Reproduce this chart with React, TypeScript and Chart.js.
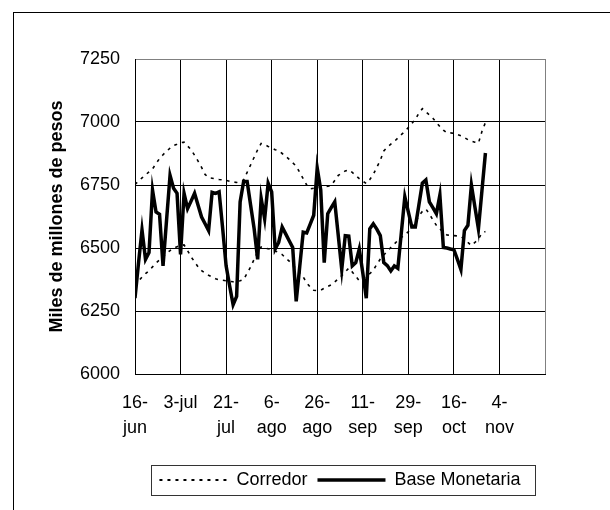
import React, { useEffect, useRef } from 'react';
import { Chart, registerables } from 'chart.js';

Chart.register(...registerables);

// X tick labels (one every 13 business days)
const tickLabels: string[][] = [
  ['16-', 'jun'], ['3-jul'], ['21-', 'jul'], ['6-', 'ago'], ['26-', 'ago'],
  ['11-', 'sep'], ['29-', 'sep'], ['16-', 'oct'], ['4-', 'nov'],
];
const TICK_EVERY = 13;
const AXIS_MAX = 117;

const Y_MIN = 6000;
const Y_MAX = 7250;
const Y_STEP = 250;

const baseMonetaria: number[] = [
  6301, 6440, 6572, 6455, 6482, 6730, 6643, 6634, 6429, 6610,
  6788, 6737, 6717, 6475, 6717, 6656, 6686, 6717, 6670, 6623,
  6596, 6569, 6721, 6717, 6723, 6580, 6429, 6350, 6275, 6308,
  6683, 6764, 6764, 6670, 6576, 6455, 6697, 6616, 6757, 6723,
  6496, 6522, 6583, 6556, 6529, 6502, 6288, 6425, 6563, 6560,
  6595, 6630, 6817, 6730, 6442, 6636, 6660, 6683, 6550, 6415,
  6549, 6547, 6429, 6442, 6496, 6402, 6301, 6576, 6596, 6575,
  6549, 6442, 6430, 6409, 6429, 6419, 6560, 6703, 6643, 6583,
  6583, 6670, 6757, 6770, 6683, 6660, 6636, 6710, 6502, 6500,
  6496, 6493, 6455, 6415, 6569, 6590, 6750, 6663, 6576, 6727,
  6877,
];

const corredorSup: number[] = [
  6752, 6765, 6778, 6790, 6802, 6814, 6835, 6855, 6870, 6884,
  6896, 6907, 6912, 6918, 6920, 6905, 6890, 6868, 6845, 6820,
  6792, 6779, 6777, 6775, 6772, 6770, 6768, 6765, 6762, 6760,
  6764, 6770, 6800, 6830, 6860, 6890, 6915, 6910, 6903, 6897,
  6890, 6886, 6875, 6864, 6852, 6838, 6825, 6800, 6775, 6750,
  6735, 6737, 6739, 6741, 6743, 6745, 6748, 6768, 6788, 6797,
  6806, 6810, 6800, 6788, 6775, 6765, 6756, 6772, 6792, 6820,
  6848, 6885, 6900, 6912, 6923, 6936, 6950, 6962, 6978, 6994,
  7010, 7035, 7053, 7040, 7028, 7015, 6998, 6982, 6968, 6957,
  6957, 6955, 6950, 6945, 6938, 6930, 6924, 6920, 6916, 6962,
  6998,
];

const corredorInf: number[] = [
  6350, 6368, 6385, 6398, 6410, 6425, 6440, 6453, 6465, 6478,
  6490, 6500, 6505, 6510, 6512, 6490, 6465, 6445, 6425, 6410,
  6400, 6392, 6385, 6378, 6374, 6372, 6370, 6368, 6366, 6368,
  6370, 6375, 6400, 6425, 6455, 6485, 6504, 6500, 6497, 6494,
  6488, 6482, 6474, 6460, 6448, 6432, 6418, 6402, 6385, 6362,
  6345, 6332, 6331, 6333, 6340, 6347, 6354, 6365, 6378, 6390,
  6405, 6420, 6405, 6388, 6370, 6378, 6390, 6398, 6412, 6435,
  6456, 6472, 6488, 6502, 6516, 6530, 6542, 6552, 6565, 6580,
  6600, 6628, 6645, 6655, 6635, 6612, 6590, 6575, 6563, 6552,
  6550, 6549, 6548, 6545, 6535, 6522, 6510, 6522, 6535, 6560,
  6565,
];

const seriesNames = ['Corredor', 'Base Monetaria'];
const yTitle = 'Miles de millones de pesos';

const toXY = (arr: number[]) => arr.map((y, i) => ({ x: i, y }));

const framePlugin = {
  id: 'outerFrame',
  beforeDraw(chart: any) {
    const ctx = chart.ctx;
    ctx.save();
    ctx.fillStyle = '#fff';
    ctx.fillRect(0, 0, chart.width, chart.height);
    ctx.strokeStyle = '#000';
    ctx.lineWidth = 1;
    ctx.strokeRect(13.5, 12.5, 900, 900);
    ctx.restore();
  },
};

const legendBoxPlugin = {
  id: 'legendBox',
  afterDraw(chart: any) {
    const lg = chart.legend;
    const hb = lg && lg.legendHitBoxes;
    if (!hb || !hb.length) return;
    const first = hb[0];
    const last = hb[hb.length - 1];
    const left = Math.round(first.left - 8);
    const right = Math.round(last.left + last.width + 14);
    const cy = first.top + first.height / 2;
    const top = Math.round(cy - 15);
    const ctx = chart.ctx;
    ctx.save();
    ctx.strokeStyle = '#333';
    ctx.lineWidth = 1;
    ctx.setLineDash([]);
    ctx.strokeRect(left + 0.5, top + 0.5, right - left, 30);
    ctx.restore();
  },
};

export default function App() {
  const ref = useRef<HTMLCanvasElement | null>(null);

  useEffect(() => {
    if (!ref.current) return;
    Chart.defaults.font.family = "'Liberation Sans', Arial, sans-serif";
    Chart.defaults.color = '#000';
    const chart = new Chart(ref.current, {
      type: 'line',
      data: {
        datasets: [
          {
            label: seriesNames[0],
            data: toXY(corredorSup),
            borderColor: '#000',
            backgroundColor: '#000',
            borderWidth: 1.6,
            borderDash: [3, 5],
            pointRadius: 0,
            tension: 0,
            fill: false,
            order: 1,
          },
          {
            label: seriesNames[1],
            data: toXY(baseMonetaria),
            borderColor: '#000',
            backgroundColor: '#000',
            borderWidth: 3.5,
            pointRadius: 0,
            tension: 0,
            fill: false,
            order: 0,
          },
          {
            label: seriesNames[0] + ' inf',
            data: toXY(corredorInf),
            borderColor: '#000',
            backgroundColor: '#000',
            borderWidth: 1.6,
            borderDash: [3, 5],
            pointRadius: 0,
            tension: 0,
            fill: false,
            order: 1,
          },
        ],
      },
      options: {
        responsive: false,
        animation: false,
        events: [],
        layout: { padding: { left: 40, right: 65, top: 59, bottom: 11 } },
        plugins: {
          tooltip: { enabled: false },
          legend: {
            position: 'bottom',
            fullSize: false,
            labels: {
              filter: (item: any) => item.datasetIndex !== 2,
              usePointStyle: true,
              pointStyle: 'line',
              pointStyleWidth: 68,
              boxHeight: 18,
              padding: 10,
              color: '#000',
              font: { size: 18 },
              generateLabels: (chart: any) =>
                chart.data.datasets.map((ds: any, i: number) => ({
                  text: ds.label,
                  datasetIndex: i,
                  strokeStyle: '#000',
                  fillStyle: '#000',
                  lineWidth: i === 1 ? 3.5 : 2,
                  lineDash: i === 1 ? [] : [3, 5],
                  pointStyle: 'line',
                  hidden: false,
                })),
            },
          },
        },
        scales: {
          x: {
            type: 'linear',
            min: 0,
            max: AXIS_MAX,
            afterFit: (scale: any) => {
              scale.height = 87;
            },
            ticks: {
              stepSize: TICK_EVERY,
              autoSkip: false,
              maxRotation: 0,
              minRotation: 0,
              padding: 16,
              color: '#000',
              font: { size: 18, lineHeight: 1.4 },
              callback: (value: any) => {
                const v = Number(value);
                const k = Math.round(v / TICK_EVERY);
                if (Math.abs(v - k * TICK_EVERY) > 1e-6) return '';
                return k < tickLabels.length ? tickLabels[k] : '';
              },
            },
            grid: {
              drawTicks: false,
              lineWidth: 1,
              color: (ctx: any) =>
                ctx.tick && Math.round(ctx.tick.value) === AXIS_MAX ? '#808080' : '#000',
            },
            border: { display: true, color: '#000', width: 1 },
          },
          y: {
            type: 'linear',
            min: Y_MIN,
            max: Y_MAX,
            afterFit: (scale: any) => {
              scale.width = 95;
            },
            ticks: {
              stepSize: Y_STEP,
              padding: 15,
              color: '#000',
              font: { size: 18 },
              callback: (value: any) => String(value),
            },
            grid: {
              drawTicks: false,
              lineWidth: 1,
              color: (ctx: any) =>
                ctx.tick && ctx.tick.value === Y_MAX ? '#808080' : '#000',
            },
            border: { display: true, color: '#000', width: 1 },
            title: {
              display: true,
              text: yTitle,
              color: '#000',
              font: { size: 18, weight: 'bold' },
              padding: { top: 6, bottom: 0 },
            },
          },
        },
      },
      plugins: [framePlugin, legendBoxPlugin],
    } as any);
    return () => chart.destroy();
  }, []);

  return (
    <canvas
      ref={ref}
      width={610}
      height={510}
      style={{ position: 'absolute', left: 0, top: 0, display: 'block' }}
    />
  );
}
